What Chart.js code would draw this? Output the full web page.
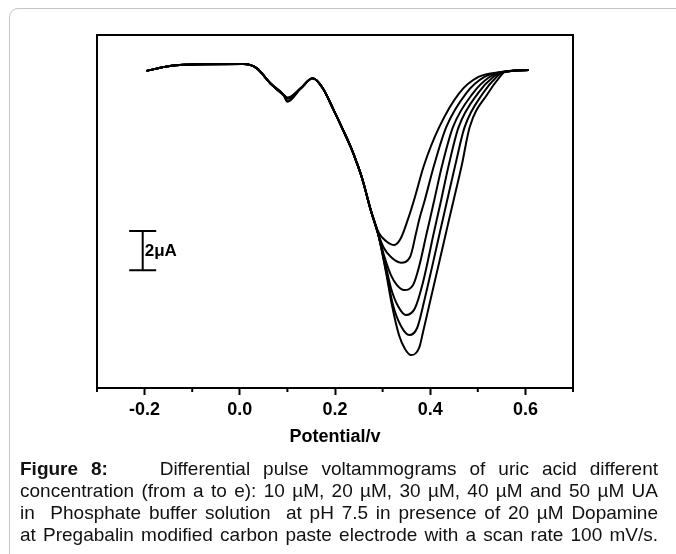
<!DOCTYPE html>
<html>
<head>
<meta charset="utf-8">
<script src="https://cdn.jsdelivr.net/npm/chart.js@4.4.1/dist/chart.umd.min.js"></script>
<style>
  body { margin: 0; background: #fff; width: 676px; height: 554px; overflow: hidden; position: relative; }
  #frame { position: absolute; left: 9px; top: 8px; width: 720px; height: 600px;
           border: 1.5px solid #c4c4c4; border-radius: 9px; }
  #chart { position: absolute; left: 0; top: 0; }
  #caption { position: absolute; left: 20px; top: 458px; width: 638px;
             font-family: "Liberation Sans", Arial, sans-serif; font-size: 19px; line-height: 22px; color: #111; }
  #caption div { text-align: justify; text-align-last: justify; white-space: nowrap; }
</style>
</head>
<body>
<div id="frame"></div>
<canvas id="chart" width="676" height="460"></canvas>
<div id="caption">
  <div><b>Figure 8:</b>&nbsp;&nbsp;&nbsp; Differential pulse voltammograms of uric acid different</div>
  <div>concentration (from a to e): 10 µM, 20 µM, 30 µM, 40 µM and 50 µM UA</div>
  <div>in&nbsp; Phosphate buffer solution&nbsp; at pH 7.5 in presence of 20 µM Dopamine</div>
  <div>at Pregabalin modified carbon paste electrode with a scan rate 100 mV/s.</div>
</div>
<script>
// potential (V) and current (µA, arbitrary offset)
// shared part of all scans, up to where the peaks split
const baseV = [-0.196, -0.147, -0.077, 0.008, 0.036, 0.064, 0.092, 0.100, 0.128, 0.153, 0.174, 0.197, 0.218, 0.233, 0.246, 0.258, 0.275];
const baseI = [16.17, 16.42, 16.51, 16.52, 16.30, 15.54, 14.94, 14.70, 15.28, 15.79, 15.30, 14.18, 13.10, 12.29, 11.47, 10.61, 9.08];
// small dip near 0.1 V, one value per scan
const dipI = [14.80, 14.80, 14.78, 14.75, 14.62, 14.60];

// uric acid peak, per scan (a = smallest ... f = largest)
const peakV = [
  [0.2922, 0.3070, 0.3245, 0.3386, 0.3528, 0.3661, 0.3872, 0.4189, 0.4611, 0.5013, 0.5498, 0.6069],
  [0.2901, 0.3027, 0.3175, 0.3386, 0.3577, 0.3703, 0.3767, 0.3887, 0.4083, 0.4337, 0.4759, 0.5139, 0.5498, 0.6069],
  [0.2901, 0.3027, 0.3175, 0.3302, 0.3456, 0.3640, 0.3767, 0.3927, 0.3991, 0.4086, 0.4252, 0.4478, 0.4901, 0.5245, 0.5498, 0.6069],
  [0.2901, 0.3049, 0.3175, 0.3323, 0.3492, 0.3682, 0.3845, 0.4075, 0.4136, 0.4231, 0.4390, 0.4597, 0.5006, 0.5323, 0.5519, 0.6069],
  [0.2901, 0.3070, 0.3218, 0.3386, 0.3562, 0.3725, 0.3879, 0.4041, 0.4200, 0.4263, 0.4358, 0.4527, 0.4723, 0.5112, 0.5393, 0.5540, 0.6069],
  [0.2901, 0.3070, 0.3196, 0.3344, 0.3471, 0.3598, 0.3767, 0.3845, 0.4005, 0.4168, 0.4331, 0.4394, 0.4493, 0.4664, 0.4829, 0.5218, 0.5463, 0.5562, 0.6069]
];
const peakI = [
  [7.90, 7.50, 7.29, 7.65, 8.57, 9.59, 11.37, 13.30, 15.04, 15.86, 16.11, 16.22],
  [7.90, 7.14, 6.68, 6.39, 6.68, 7.90, 8.57, 9.59, 11.37, 13.30, 15.04, 15.86, 16.11, 16.22],
  [7.90, 6.78, 5.76, 5.25, 5.00, 5.25, 6.19, 7.90, 8.57, 9.59, 11.37, 13.30, 15.04, 15.86, 16.11, 16.22],
  [7.90, 6.43, 5.10, 4.18, 3.72, 4.08, 5.35, 7.90, 8.57, 9.59, 11.37, 13.30, 15.04, 15.86, 16.11, 16.22],
  [7.90, 6.02, 4.23, 3.16, 2.70, 3.06, 4.49, 6.19, 7.90, 8.57, 9.59, 11.37, 13.30, 15.04, 15.86, 16.11, 16.22],
  [7.90, 5.92, 4.23, 2.70, 1.99, 1.68, 2.04, 2.80, 4.49, 6.19, 7.90, 8.57, 9.59, 11.37, 13.30, 15.04, 15.86, 16.11, 16.22]
];

const xTicks = [-0.2, 0.0, 0.2, 0.4, 0.6];
const xMinorTicks = [-0.3, -0.1, 0.1, 0.3, 0.5, 0.7];
// scale bar: 2 µA drawn at x = -0.204 V
const barX = -0.204;
const barFrom = 6;
const barTo = 8;
const barLabel = '2\u03bcA';

const scans = peakV.map((vs, k) => {
  const pts = baseV.map((v, i) => ({ x: v, y: i === 7 ? dipI[k] : baseI[i] }));
  vs.forEach((v, i) => pts.push({ x: v, y: peakI[k][i] }));
  return {
    data: pts,
    borderColor: '#000',
    borderWidth: 2,
    pointRadius: 0,
    fill: false,
    cubicInterpolationMode: 'monotone'
  };
});

const extras = {
  id: 'extras',
  afterDraw(chart) {
    const { ctx, chartArea: a, scales: { x, y } } = chart;
    ctx.save();
    ctx.strokeStyle = '#000';
    ctx.lineWidth = 2;
    ctx.strokeRect(a.left, a.top, a.right - a.left, a.bottom - a.top);
    // minor ticks
    xMinorTicks.forEach(v => {
      const px = x.getPixelForValue(v);
      ctx.beginPath();
      ctx.moveTo(px, a.bottom);
      ctx.lineTo(px, a.bottom + 4);
      ctx.stroke();
    });
    // scale bar
    const bx = x.getPixelForValue(barX);
    const y1 = y.getPixelForValue(barTo);
    const y2 = y.getPixelForValue(barFrom);
    ctx.beginPath();
    ctx.moveTo(bx, y1); ctx.lineTo(bx, y2);
    ctx.moveTo(bx - 13.5, y1); ctx.lineTo(bx + 13.5, y1);
    ctx.moveTo(bx - 13.5, y2); ctx.lineTo(bx + 13.5, y2);
    ctx.stroke();
    ctx.fillStyle = '#000';
    ctx.font = 'bold 17px "Liberation Sans", Arial, sans-serif';
    ctx.textAlign = 'left';
    ctx.textBaseline = 'middle';
    ctx.fillText(barLabel, bx + 2, (y1 + y2) / 2 + 1);
    ctx.restore();
  }
};

new Chart(document.getElementById('chart'), {
  type: 'line',
  data: { datasets: scans },
  options: {
    responsive: false,
    animation: false,
    devicePixelRatio: 1,
    layout: { padding: { left: 97, right: 103, top: 35, bottom: 0 } },
    plugins: { legend: { display: false }, tooltip: { enabled: false } },
    scales: {
      x: {
        type: 'linear',
        min: -0.3,
        max: 0.7,
        afterBuildTicks: s => { s.ticks = xTicks.map(v => ({ value: v })); },
        afterFit: s => { s.height = 72; },
        grid: { drawOnChartArea: false, tickLength: 7, tickWidth: 2, tickColor: '#000' },
        border: { display: true, color: '#000', width: 2 },
        ticks: {
          color: '#000',
          padding: 4,
          maxRotation: 0,
          font: { family: '"Liberation Sans", Arial, sans-serif', size: 18, weight: 'bold' },
          callback: v => v.toFixed(1)
        },
        title: {
          display: true,
          text: 'Potential/v',
          color: '#000',
          padding: { top: 4, bottom: 12 },
          font: { family: '"Liberation Sans", Arial, sans-serif', size: 18, weight: 'bold' }
        }
      },
      y: { display: false, min: 0, max: 18 }
    }
  },
  plugins: [extras]
});
</script>
</body>
</html>
